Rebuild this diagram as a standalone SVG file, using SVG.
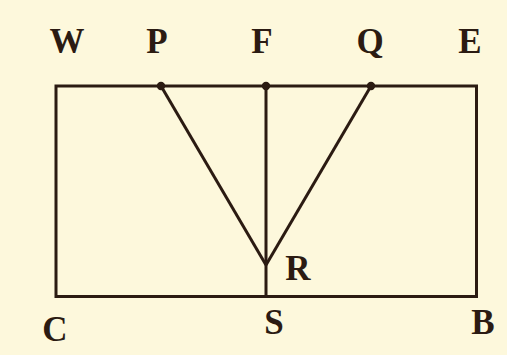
<svg xmlns="http://www.w3.org/2000/svg" width="507" height="355" viewBox="0 0 507 355">
<style>
.ln{stroke:#2b1b12;stroke-width:3;fill:none;stroke-linejoin:miter}
.dot{fill:#2b1b12}
.lb{font-family:"Liberation Serif","Times New Roman",serif;font-weight:bold;font-size:35px;fill:#2b1b12;text-anchor:middle}
</style>
<rect width="507" height="355" fill="#fdf8dc"/>
<g id="connectors">
<rect class="ln" x="56" y="86" width="420.5" height="210.5"/>
<line class="ln" x1="161" y1="86" x2="266" y2="265"/>
<line class="ln" x1="371" y1="86" x2="266" y2="265"/>
<line class="ln" x1="266" y1="86" x2="266" y2="296.5"/>
</g>
<g id="P"><circle class="dot" cx="161" cy="86" r="4.2"/><text class="lb" x="157" y="53">P</text></g>
<g id="F"><circle class="dot" cx="266" cy="86" r="4.2"/><text class="lb" x="262" y="53">F</text></g>
<g id="Q"><circle class="dot" cx="371" cy="86" r="4.2"/><text class="lb" x="370" y="53">Q</text></g>
<g id="W"><text class="lb" x="67" y="53">W</text></g>
<g id="E"><text class="lb" x="470" y="53">E</text></g>
<g id="R"><text class="lb" x="298" y="280">R</text></g>
<g id="C"><text class="lb" x="55" y="341">C</text></g>
<g id="S"><text class="lb" x="274" y="334">S</text></g>
<g id="B"><text class="lb" x="483" y="334">B</text></g>
</svg>
